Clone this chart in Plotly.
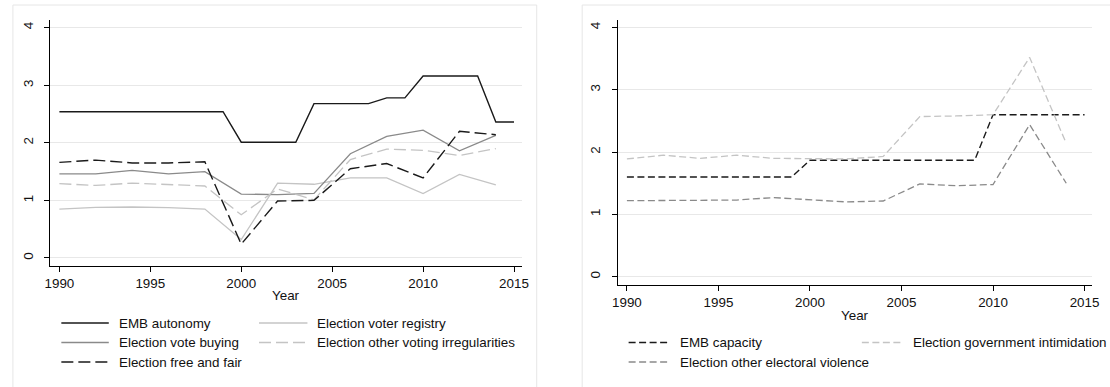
import plotly.graph_objects as go

# ---- data -------------------------------------------------------------
years_annual = list(range(1990, 2016))
years_election = list(range(1990, 2015, 2))

# left panel
emb_autonomy = [2.54] * 10 + [2.01] * 4 + [2.68] * 4 + [2.78] * 2 + [3.16] * 4 + [2.36] * 2
voter_registry = [0.85, 0.88, 0.885, 0.875, 0.85, 0.32, 1.30, 1.28, 1.39, 1.39, 1.12, 1.45, 1.27]
vote_buying = [1.46, 1.46, 1.52, 1.46, 1.50, 1.11, 1.10, 1.12, 1.81, 2.11, 2.22, 1.86, 2.13]
other_irregularities = [1.29, 1.26, 1.30, 1.27, 1.25, 0.75, 1.20, 1.01, 1.71, 1.89, 1.87, 1.78, 1.90]
free_and_fair = [1.66, 1.70, 1.65, 1.65, 1.67, 0.24, 0.99, 1.00, 1.55, 1.64, 1.39, 2.20, 2.14]

# right panel
emb_capacity = [1.60] * 10 + [1.87] * 10 + [2.60] * 6
gov_intimidation = [1.89, 1.95, 1.90, 1.95, 1.90, 1.89, 1.89, 1.93, 2.57, 2.58, 2.60, 3.52, 2.14]
electoral_violence = [1.22, 1.22, 1.23, 1.23, 1.27, 1.24, 1.20, 1.215, 1.49, 1.46, 1.48, 2.44, 1.50]

x_ticks = [1990, 1995, 2000, 2005, 2010, 2015]
y_ticks = [0, 1, 2, 3, 4]

# ---- styling ----------------------------------------------------------
W, H = 1110, 387
FONT = "Liberation Sans, Arial, sans-serif"
FONT_SIZE = 13.4
BLACK = "#1a1a1a"
MID = "#8a8a8a"
LIGHT = "#c4c4c4"
LONG_DASH = "12px,5px"
SHORT_DASH = "7px,3.5px"


def px(x):
    return x / W


def py(y):
    return 1 - y / H


left_series = [
    ("EMB autonomy", years_annual, emb_autonomy, BLACK, "solid", 1.4),
    ("Election voter registry", years_election, voter_registry, LIGHT, "solid", 1.3),
    ("Election vote buying", years_election, vote_buying, MID, "solid", 1.3),
    ("Election other voting irregularities", years_election, other_irregularities, LIGHT, LONG_DASH, 1.3),
    ("Election free and fair", years_election, free_and_fair, BLACK, LONG_DASH, 1.4),
]
right_series = [
    ("EMB capacity", years_annual, emb_capacity, BLACK, SHORT_DASH, 1.4),
    ("Election government intimidation", years_election, gov_intimidation, LIGHT, SHORT_DASH, 1.3),
    ("Election other electoral violence", years_election, electoral_violence, MID, SHORT_DASH, 1.3),
]

fig = go.Figure()
for name, xs, ys, color, dash, width in left_series:
    fig.add_trace(go.Scatter(x=xs, y=ys, name=name, mode="lines",
                             line=dict(color=color, dash=dash, width=width),
                             xaxis="x", yaxis="y", showlegend=False))
for name, xs, ys, color, dash, width in right_series:
    fig.add_trace(go.Scatter(x=xs, y=ys, name=name, mode="lines",
                             line=dict(color=color, dash=dash, width=width),
                             xaxis="x2", yaxis="y2", showlegend=False))

axis_common = dict(
    showline=True, linecolor="#000", linewidth=1.1,
    ticks="outside", ticklen=5, tickwidth=1, tickcolor="#000",
    tickfont=dict(family=FONT, size=FONT_SIZE, color="#111"),
    zeroline=False, fixedrange=True,
)
xaxis_common = dict(axis_common, tickvals=x_ticks, showgrid=False)
yaxis_common = dict(axis_common, tickvals=y_ticks, tickangle=-90, ticklabelstandoff=6,
                    showgrid=True, gridcolor="#e8e8e8", gridwidth=1)

fig.update_layout(
    width=W, height=H,
    margin=dict(l=0, r=0, t=0, b=0),
    paper_bgcolor="white", plot_bgcolor="white",
    xaxis=dict(xaxis_common, domain=[px(45), px(522.5)], range=[1989.51, 2015.46], anchor="y"),
    yaxis=dict(yaxis_common, domain=[py(266), py(20)], range=[-0.139, 4.132], anchor="x"),
    xaxis2=dict(xaxis_common, domain=[px(619), px(1099.3)], range=[1989.50, 2015.43], anchor="y2"),
    yaxis2=dict(yaxis_common, domain=[py(285), py(20)], range=[-0.133, 4.12], anchor="x2"),
    showlegend=False,
)

shapes = []
annotations = []

# panel frames
for x0, x1 in [(7, 537), (583, 1125)]:
    shapes.append(dict(type="rect", xref="paper", yref="paper",
                       x0=px(x0), x1=px(x1), y0=py(400), y1=py(5),
                       line=dict(color="#e6e6e6", width=1), fillcolor="rgba(0,0,0,0)",
                       layer="below"))

# axis titles
for xc, yc in [(283.5, 295), (859, 315)]:
    annotations.append(dict(text="Year", xref="paper", yref="paper", x=px(xc), y=py(yc),
                            xanchor="center", yanchor="middle", showarrow=False,
                            font=dict(family=FONT, size=FONT_SIZE, color="#111")))

# legend keys: (series, line x0, line x1, text x, row y)
left_layout = [
    (left_series[0], 56, 104, 112.5, 323),
    (left_series[1], 256, 305, 313, 323),
    (left_series[2], 56, 104, 112.5, 342.5),
    (left_series[3], 256, 305, 313, 342.5),
    (left_series[4], 56, 104, 112.5, 362),
]
right_layout = [
    (right_series[0], 630, 672, 680, 342.5),
    (right_series[1], 866, 907, 916, 342.5),
    (right_series[2], 630, 672, 680, 362),
]
for (name, _, _, color, dash, width), x0, x1, xt, yr in left_layout + right_layout:
    shapes.append(dict(type="line", xref="paper", yref="paper",
                       x0=px(x0), x1=px(x1), y0=py(yr), y1=py(yr),
                       line=dict(color=color, dash=dash, width=width)))
    annotations.append(dict(text=name, xref="paper", yref="paper", x=px(xt), y=py(yr),
                            xanchor="left", yanchor="middle", showarrow=False,
                            font=dict(family=FONT, size=FONT_SIZE, color="#111")))

fig.update_layout(shapes=shapes, annotations=annotations)
fig.write_html("out.html")
